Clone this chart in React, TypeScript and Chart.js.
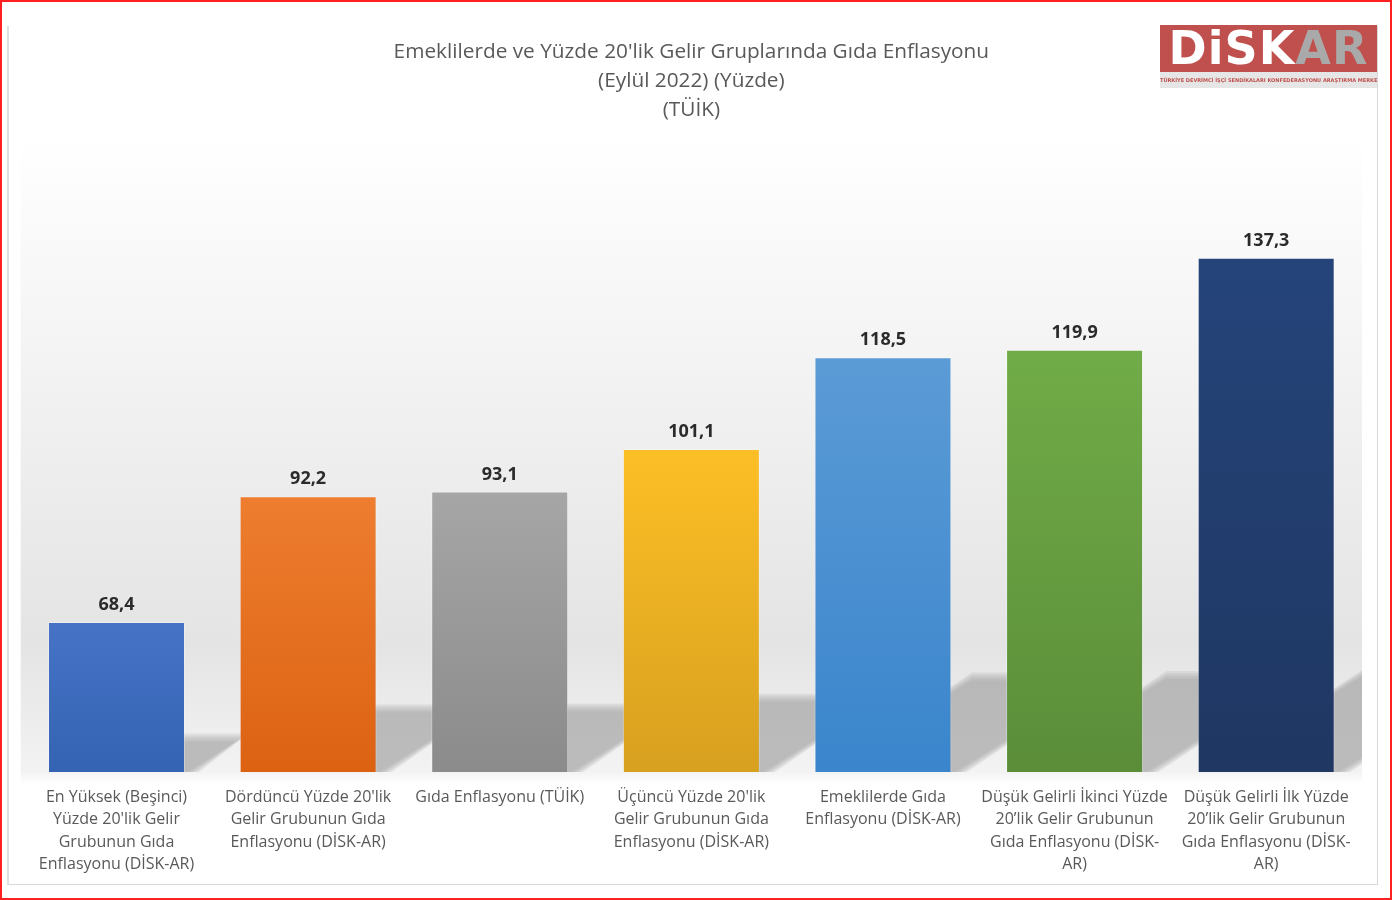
import React, { useEffect, useRef } from "react";
import { Chart, registerables } from "chart.js";

Chart.register(...registerables);

const TITLE_LINES = [
  "Emeklilerde ve Yüzde 20'lik Gelir Gruplarında Gıda Enflasyonu",
  "(Eylül 2022) (Yüzde)",
  "(TÜİK)",
];

const CATEGORIES: string[][] = [
  ["En Yüksek (Beşinci)", "Yüzde 20'lik Gelir", "Grubunun Gıda", "Enflasyonu (DİSK-AR)"],
  ["Dördüncü Yüzde 20'lik", "Gelir Grubunun Gıda", "Enflasyonu (DİSK-AR)"],
  ["Gıda Enflasyonu (TÜİK)"],
  ["Üçüncü Yüzde 20'lik", "Gelir Grubunun Gıda", "Enflasyonu (DİSK-AR)"],
  ["Emeklilerde Gıda", "Enflasyonu (DİSK-AR)"],
  ["Düşük Gelirli İkinci Yüzde", "20’lik Gelir Grubunun", "Gıda Enflasyonu (DİSK-", "AR)"],
  ["Düşük Gelirli İlk Yüzde", "20’lik Gelir Grubunun", "Gıda Enflasyonu (DİSK-", "AR)"],
];

const VALUES = [68.4, 92.2, 93.1, 101.1, 118.5, 119.9, 137.3];

const BAR_TOP_COLORS = ["#4673c6", "#ee7d30", "#a6a6a6", "#fdbf26", "#5b9bd6", "#70ac47", "#25447a"];
const BAR_BOTTOM_COLORS = ["#3563b3", "#dc6212", "#8b8b8b", "#d7a01f", "#3a85cc", "#5b8d39", "#1f3762"];

const Y_MIN = 40;
const Y_MAX = 160;

const fmt = (v: number) => v.toFixed(1).replace(".", ",");

const backgroundPlugin = {
  id: "wallBackground",
  beforeDraw(chart: any) {
    const { ctx, chartArea } = chart;
    if (!chartArea) return;
    const { left, right, top, bottom } = chartArea;
    ctx.save();
    const g = ctx.createLinearGradient(0, top, 0, bottom);
    g.addColorStop(0, "#ffffff");
    g.addColorStop(0.8, "#e4e4e4");
    g.addColorStop(1, "#f3f3f3");
    ctx.fillStyle = g;
    ctx.fillRect(left, top, right - left, bottom - top);
    const f = ctx.createLinearGradient(0, bottom, 0, bottom + 12);
    f.addColorStop(0, "#f3f3f3");
    f.addColorStop(1, "#ffffff");
    ctx.fillStyle = f;
    ctx.fillRect(left, bottom, right - left, 12);
    ctx.restore();
  },
};

const shadowPlugin = {
  id: "barShadows",
  beforeDatasetsDraw(chart: any) {
    const { ctx, chartArea } = chart;
    const meta = chart.getDatasetMeta(0);
    if (!meta || !chartArea) return;
    const base = chartArea.bottom;
    ctx.save();
    ctx.beginPath();
    ctx.rect(chartArea.left, chartArea.top, chartArea.right - chartArea.left, base - chartArea.top);
    ctx.clip();
    const layers = [4, 2, 0, -2, -4];
    meta.data.forEach((bar: any) => {
      const bx = bar.x;
      const by = bar.y;
      const bw = bar.width;
      const h = (base - by) * 0.23;
      const dx = h * 1.65;
      const xl = bx - bw / 2;
      const xr = bx + bw / 2;
      layers.forEach((g) => {
        ctx.fillStyle = "rgba(160,160,160,0.19)";
        ctx.beginPath();
        ctx.moveTo(xl, base + 6);
        ctx.lineTo(xr + g * 1.6, base + 6);
        ctx.lineTo(xr + dx + g * 1.6, base - h - g);
        ctx.lineTo(xl + dx, base - h - g);
        ctx.closePath();
        ctx.fill();
      });
    });
    ctx.restore();
  },
};

const valueLabelPlugin = {
  id: "valueLabels",
  afterDatasetsDraw(chart: any) {
    const { ctx } = chart;
    const meta = chart.getDatasetMeta(0);
    ctx.save();
    ctx.font = "bold 18px 'Open Sans', sans-serif";
    ctx.fillStyle = "#2b2b2b";
    ctx.textAlign = "center";
    ctx.textBaseline = "middle";
    meta.data.forEach((bar: any, i: number) => {
      ctx.fillText(fmt(VALUES[i]), bar.x, bar.y - 17);
    });
    ctx.restore();
  },
};

export default function App() {
  const canvasRef = useRef<HTMLCanvasElement | null>(null);

  useEffect(() => {
    document.body.style.margin = "0";
    const canvas = canvasRef.current;
    if (!canvas) return;
    const chart = new Chart(canvas, {
      type: "bar",
      data: {
        labels: CATEGORIES,
        datasets: [
          {
            data: VALUES,
            backgroundColor: (c: any) => {
              const chart = c.chart;
              const area = chart.chartArea;
              const i = c.dataIndex;
              if (!area || i === undefined) return BAR_TOP_COLORS[i || 0];
              const yTop = chart.scales.y.getPixelForValue(VALUES[i]);
              const g = chart.ctx.createLinearGradient(0, yTop, 0, area.bottom);
              g.addColorStop(0, BAR_TOP_COLORS[i]);
              g.addColorStop(1, BAR_BOTTOM_COLORS[i]);
              return g;
            },
            borderColor: "rgba(255,255,255,0.28)",
            borderWidth: 1,
            barPercentage: 0.715,
            categoryPercentage: 1,
          },
        ],
      },
      options: {
        animation: false,
        responsive: false,
        maintainAspectRatio: false,
        layout: { padding: { left: 12.7, right: 12, top: 0, bottom: 0 } },
        plugins: {
          legend: { display: false },
          tooltip: { enabled: false },
          title: {
            display: true,
            text: TITLE_LINES,
            color: "#595959",
            font: { family: "'Open Sans', sans-serif", size: 20.8, weight: "normal", lineHeight: 1.4 },
            padding: { top: 10.5, bottom: 13 },
          },
        },
        scales: {
          x: {
            grid: { display: false, drawTicks: false, tickLength: 0 },
            border: { display: false },
            ticks: {
              color: "#595959",
              font: { family: "'Open Sans', sans-serif", size: 16, lineHeight: 1.4 },
              padding: 14,
              maxRotation: 0,
              minRotation: 0,
              autoSkip: false,
            },
            afterFit: (scale: any) => {
              scale.height = 113;
            },
          },
          y: {
            display: false,
            min: Y_MIN,
            max: Y_MAX,
          },
        },
      },
      plugins: [backgroundPlugin, shadowPlugin, valueLabelPlugin],
    });
    return () => chart.destroy();
  }, []);

  return (
    <div
      style={{
        position: "relative",
        width: 1392,
        height: 900,
        boxSizing: "border-box",
        border: "2px solid #ff2020",
        background: "#ffffff",
        overflow: "hidden",
      }}
    >
      <div
        style={{
          position: "absolute",
          left: 5,
          top: 24,
          width: 1371,
          height: 859,
          boxSizing: "border-box",
          borderLeft: "2px solid #e0e0e0",
          borderRight: "1px solid #d9d9d9",
          borderBottom: "1px solid #d9d9d9",
        }}
      />
      <canvas
        ref={canvasRef}
        width={1366}
        height={858}
        style={{ position: "absolute", left: 6, top: 25, width: 1366, height: 858 }}
      />
      <div
        style={{
          position: "absolute",
          left: 1158,
          top: 23,
          width: 217,
          height: 47,
          background: "#c0504d",
          fontFamily: "'DejaVu Sans', sans-serif",
          fontWeight: "bold",
          fontSize: 46,
          lineHeight: "47px",
          letterSpacing: 1,
          textAlign: "center",
          whiteSpace: "nowrap",
        }}
      >
        <span style={{ color: "#ffffff" }}>DiSK</span>
        <span style={{ color: "#a9a9a9" }}>AR</span>
      </div>
      <div
        style={{
          position: "absolute",
          left: 1158,
          top: 70,
          width: 217,
          height: 16,
          background: "#e6e6e6",
          color: "#c0504d",
          fontFamily: "'DejaVu Sans', sans-serif",
          fontWeight: "bold",
          fontSize: 5,
          lineHeight: "16px",
          textAlign: "center",
          whiteSpace: "nowrap",
          overflow: "hidden",
        }}
      >
        TÜRKİYE DEVRİMCİ İŞÇİ SENDİKALARI KONFEDERASYONU ARAŞTIRMA MERKEZİ
      </div>
    </div>
  );
}
